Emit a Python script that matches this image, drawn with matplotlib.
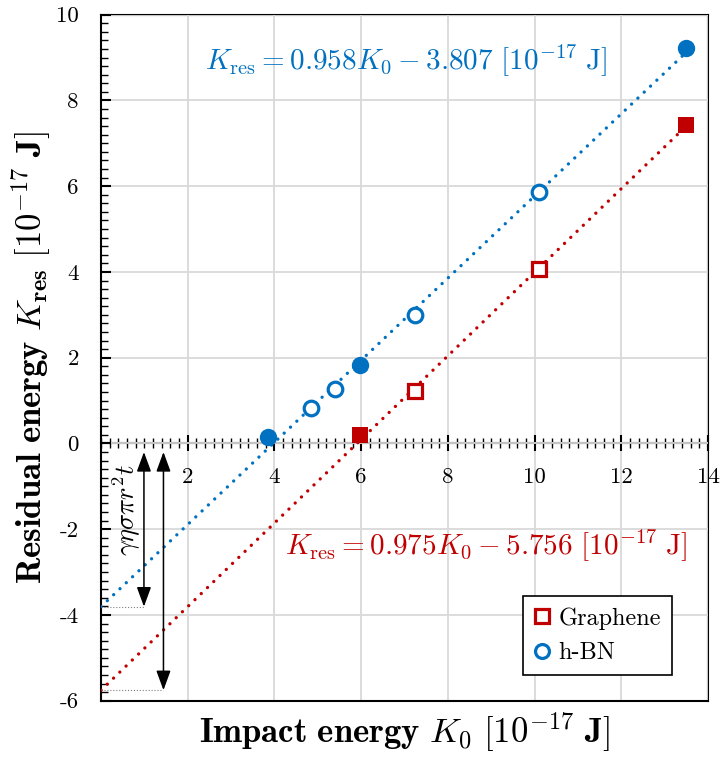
import numpy as np
import matplotlib
matplotlib.use("Agg")
import matplotlib.pyplot as plt
from matplotlib.ticker import MultipleLocator

plt.rcParams['font.family'] = 'serif'
plt.rcParams['font.serif'] = ['cmr10']
plt.rcParams['mathtext.fontset'] = 'cm'
plt.rcParams['axes.unicode_minus'] = False

blue = '#0070C0'
red = '#C00000'

# h-BN data (filled / open markers)
hbn_full_x = [3.84, 5.98, 13.48]
hbn_full_y = [0.16, 1.83, 9.23]
hbn_open_x = [4.85, 5.40, 7.25, 10.10]
hbn_open_y = [0.83, 1.27, 3.00, 5.87]

# graphene data
gr_full_x = [5.98, 13.48]
gr_full_y = [0.19, 7.43]
gr_open_x = [7.25, 10.10]
gr_open_y = [1.22, 4.08]

# linear fits
hbn_slope, hbn_icpt = 0.958, -3.807
gr_slope, gr_icpt = 0.975, -5.756
fit_x = np.array([0.0, 13.5])

xticks = [2, 4, 6, 8, 10, 12, 14]
yticks = [-6, -4, -2, 0, 2, 4, 6, 8, 10]

fig = plt.figure(figsize=(7.21, 7.57), dpi=100)
ax = fig.add_axes([0.1401, 0.0744, 0.842, 0.9062])
ax.set_xlim(0, 14)
ax.set_ylim(-6, 10)

ax.set_xticks(xticks)
ax.set_yticks(yticks)
ax.xaxis.set_minor_locator(MultipleLocator(0.2))
ax.yaxis.set_minor_locator(MultipleLocator(0.2))
ax.grid(True, which='major', color='#d9d9d9', lw=1.3, zorder=0)

ax.spines['bottom'].set_position(('data', 0))
for s in ax.spines.values():
    s.set_linewidth(1.5)
    s.set_zorder(1.5)
# frame line along the bottom
ax.plot([0, 1], [0, 0], transform=ax.transAxes, color='k', lw=1.5, clip_on=False, zorder=5)

ax.tick_params(axis='x', which='major', direction='inout', length=11, width=1.5, pad=12, labelsize=16.5)
ax.tick_params(axis='x', which='minor', direction='inout', length=7.5, width=1.0)
ax.tick_params(axis='y', which='major', direction='in', length=7, width=1.5, pad=16, labelsize=16.5)
ax.tick_params(axis='y', which='minor', direction='in', length=5, width=1.0)

dots = (0, (0.01, 2.6))
ax.plot(fit_x, hbn_slope * fit_x + hbn_icpt, color=blue, lw=2.4, ls=dots, dash_capstyle='round', zorder=3)
ax.plot(fit_x, gr_slope * fit_x + gr_icpt, color=red, lw=2.4, ls=dots, dash_capstyle='round', zorder=3)

ax.plot(hbn_full_x, hbn_full_y, 'o', color=blue, ms=12.5, mew=0, zorder=4)
ax.plot(hbn_open_x, hbn_open_y, 'o', color=blue, mfc='white', ms=10.5, mew=2.3, zorder=4)
ax.plot(gr_full_x, gr_full_y, 's', color=red, ms=11.5, mew=0, zorder=4)
ax.plot(gr_open_x, gr_open_y, 's', color=red, mfc='white', ms=9.5, mew=2.3, zorder=4)

ax.text(7.05, 8.95, r'$K_{\rm res} = 0.958K_0 - 3.807\ [10^{-17}\ {\rm J}]$',
        color=blue, fontsize=21, ha='center', va='center')
ax.text(8.89, -2.38, r'$K_{\rm res} = 0.975K_0 - 5.756\ [10^{-17}\ {\rm J}]$',
        color=red, fontsize=21, ha='center', va='center')

# intercept arrows
arr_x1, arr_x2 = 0.99, 1.44
ax.plot([0, arr_x1], [hbn_icpt, hbn_icpt], color='gray', lw=0.8, ls=':', zorder=2)
ax.plot([0, arr_x2], [gr_icpt, gr_icpt], color='gray', lw=0.8, ls=':', zorder=2)
aprops = dict(arrowstyle='<|-|>,head_length=0.6,head_width=0.22', color='k', lw=1.1,
              shrinkA=0, shrinkB=0, mutation_scale=20)
ax.annotate('', xy=(arr_x1, hbn_icpt), xytext=(arr_x1, -0.2), arrowprops=aprops, zorder=5)
ax.annotate('', xy=(arr_x2, gr_icpt), xytext=(arr_x2, -0.2), arrowprops=aprops, zorder=5)
ax.text(0.6, -1.55, r'$\gamma\eta\sigma\pi r^2 t$', rotation=90, fontsize=19,
        ha='center', va='center')

ax.plot([], [], 's', color=red, mfc='white', ms=9.5, mew=2.3, label='Graphene')
ax.plot([], [], 'o', color=blue, mfc='white', ms=10, mew=2.3, label='h-BN')
leg = ax.legend(loc='lower right', bbox_to_anchor=(0.9407, 0.0375), borderaxespad=0,
                fontsize=17.5, fancybox=False, framealpha=1, edgecolor='k',
                handlelength=0.6, handletextpad=0.4, labelspacing=0.5, borderpad=0.45)
leg.get_frame().set_linewidth(1.2)
leg.set_zorder(6)

ax.set_xlabel(r'$\mathbf{Impact\ energy}\ K_0\ [10^{-17}\ \mathbf{J}]$', fontsize=25)
ax.xaxis.set_label_coords(0.5, -0.014)
ax.set_ylabel(r'$\mathbf{Residual\ energy}\ K_{\mathbf{res}}\ [10^{-17}\ \mathbf{J}]$', fontsize=25)
ax.yaxis.set_label_coords(-0.079, 0.5)

fig.savefig('out.png', dpi=100)
